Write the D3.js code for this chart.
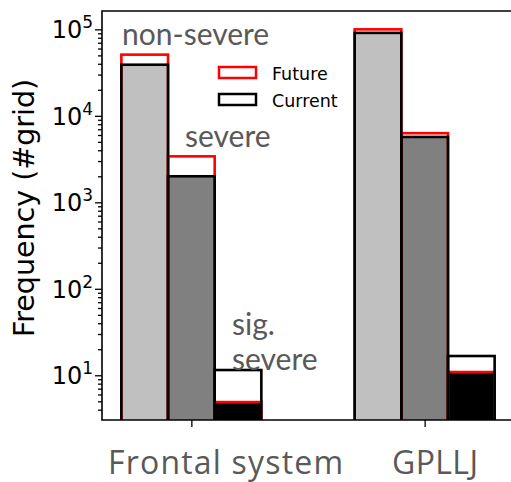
<!DOCTYPE html>
<html><head><meta charset="utf-8">
<script src="https://cdn.jsdelivr.net/npm/d3@7"></script>
<style>body{margin:0;background:#fff} svg{display:block}</style>
</head><body><svg id="chart" width="511" height="482"></svg>
<script>
// Grid-point counts of hail classes for two environments, current vs. future climate
const groups = ["Frontal system", "GPLLJ"];
const classes = ["non-severe", "severe", "sig. severe"];
const classFill = ["#c0c0c0", "#808080", "#000000"];
const current = [[39000, 2000, 11.5], [91000, 5700, 16.7]];
const future = [[51000, 3400, 4.9], [100000, 6300, 10.9]];
const yTickValues = [10, 100, 1000, 10000, 100000];
const legendLabels = ["Future", "Current"];
const legendColors = ["#ff0000", "#000000"];

const svg = d3.select("#chart");
const margin = {left: 102, top: 11, right: 514, bottom: 420};
const barWidth = 0.2;

const x = d3.scaleLinear().domain([-0.383, 1.383]).range([margin.left, margin.right]);
const y = d3.scaleLog().domain([3.04, 1.63e5]).range([margin.bottom, margin.top]);

svg.append("defs").append("clipPath").attr("id", "plotClip")
  .append("rect").attr("x", margin.left).attr("y", margin.top)
  .attr("width", margin.right - margin.left).attr("height", margin.bottom - margin.top);

const plot = svg.append("g").attr("clip-path", "url(#plotClip)");

// flatten the bars
const bars = [];
groups.forEach((g, gi) => classes.forEach((c, ci) => {
  bars.push({gi, ci, cur: current[gi][ci], fut: future[gi][ci]});
}));
const xLeft = d => x(d.gi + (d.ci - 1) * barWidth - barWidth / 2);
const bw = x(barWidth) - x(0);
const yBase = margin.bottom + 6;

// filled part up to the smaller of the two values
plot.selectAll("rect.fill").data(bars).join("rect")
  .attr("class", "fill")
  .attr("x", xLeft).attr("width", bw)
  .attr("y", d => y(Math.min(d.cur, d.fut)))
  .attr("height", d => yBase - y(Math.min(d.cur, d.fut)))
  .attr("fill", d => classFill[d.ci]);

// future outline (red)
plot.selectAll("rect.fut").data(bars).join("rect")
  .attr("class", "fut")
  .attr("x", xLeft).attr("width", bw)
  .attr("y", d => y(d.fut)).attr("height", d => yBase - y(d.fut))
  .attr("fill", "none").attr("stroke", "#ff0000").attr("stroke-width", 2.6);

// current outline (black)
plot.selectAll("rect.cur").data(bars).join("rect")
  .attr("class", "cur")
  .attr("x", xLeft).attr("width", bw)
  .attr("y", d => y(d.cur)).attr("height", d => yBase - y(d.cur))
  .attr("fill", "none").attr("stroke", "#000000").attr("stroke-width", 2.6);

// frame (left, top, bottom spines)
svg.append("path")
  .attr("d", `M${margin.right},${margin.top}H${margin.left}V${margin.bottom}H${margin.right}`)
  .attr("fill", "none").attr("stroke", "#000").attr("stroke-width", 1.6);

// y axis ticks
const minorTicks = [];
for (let e = 0; e <= 5; e++) for (let m = 2; m <= 9; m++) {
  const v = m * Math.pow(10, e);
  if (v >= y.domain()[0] && v <= y.domain()[1]) minorTicks.push(v);
}
const yAxisMinor = d3.axisLeft(y).tickValues(minorTicks).tickSize(4).tickFormat("");
const yAxisMajor = d3.axisLeft(y).tickValues(yTickValues).tickSize(7).tickFormat("");
[yAxisMinor, yAxisMajor].forEach(ax => {
  const g = svg.append("g").attr("transform", `translate(${margin.left},0)`).call(ax);
  g.select(".domain").remove();
  g.selectAll("line").attr("stroke", "#000").attr("stroke-width", 1.3);
});

// y tick labels as 10^n
const yLab = svg.append("g").attr("font-family", "DejaVu Sans").attr("fill", "#000");
yTickValues.forEach(v => {
  const t = yLab.append("text")
    .attr("x", 93).attr("y", y(v) + 9)
    .attr("text-anchor", "end").attr("font-size", 24);
  t.append("tspan").text("10");
  t.append("tspan").attr("font-size", 17).attr("dy", -10).text(Math.round(Math.log10(v)));
});

// y axis title
svg.append("text")
  .attr("transform", `translate(34,${(80 + 336) / 2}) rotate(-90)`)
  .attr("text-anchor", "middle").attr("font-family", "DejaVu Sans")
  .attr("font-size", 28.5).attr("fill", "#000")
  .text("Frequency (#grid)");

// x axis ticks and labels
const xAxis = d3.axisBottom(x).tickValues([0, 1]).tickSize(7).tickFormat("");
const gx = svg.append("g").attr("transform", `translate(0,${margin.bottom})`).call(xAxis);
gx.select(".domain").remove();
gx.selectAll("line").attr("stroke", "#000").attr("stroke-width", 1.3);

const groupLabelWidth = [235, 86];
svg.selectAll("text.group").data(groups).join("text")
  .attr("class", "group")
  .attr("x", (d, i) => i === 0 ? 108 : 392).attr("y", 474)
  .attr("font-family", "Open Sans").attr("font-size", 32).attr("fill", "#595959")
  .attr("textLength", (d, i) => groupLabelWidth[i]).attr("lengthAdjust", "spacing")
  .text(d => d);

// class annotations
const ann = svg.append("g").attr("font-family", "Lato").attr("font-size", 30).attr("fill", "#595959");
ann.append("text").attr("x", 122).attr("y", 45).text(classes[0]);
ann.append("text").attr("x", 185).attr("y", 147).text(classes[1]);
const sig = ann.append("text");
sig.append("tspan").attr("x", 232).attr("y", 335).text("sig.");
sig.append("tspan").attr("x", 232).attr("y", 370).text("severe");

// legend
const leg = svg.append("g");
legendLabels.forEach((l, i) => {
  leg.append("rect").attr("x", 219).attr("y", 67 + i * 27).attr("width", 37).attr("height", 11)
    .attr("fill", "none").attr("stroke", legendColors[i]).attr("stroke-width", 2.5);
  leg.append("text").attr("x", 272).attr("y", 80 + i * 27)
    .attr("font-family", "DejaVu Sans").attr("font-size", 17.5).attr("fill", "#000").text(l);
});
</script></body></html>
